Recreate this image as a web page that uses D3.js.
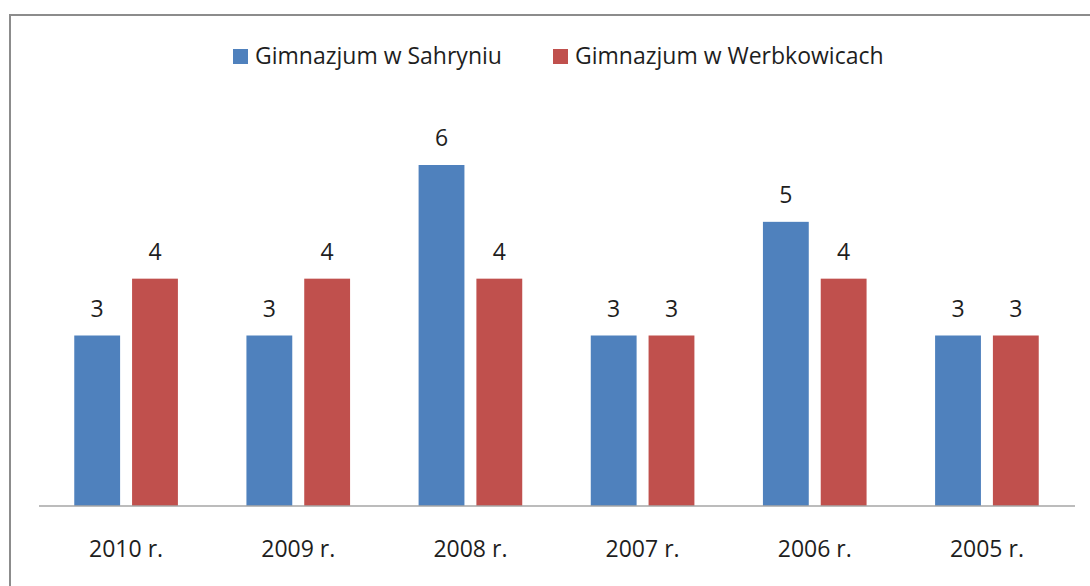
<!DOCTYPE html>
<html lang="pl">
    <head>
        <meta charset="UTF-8">
        <title>Gimnazja</title>
        <script src="https://d3js.org/d3.v7.min.js"></script>
        <style>
            body { margin: 0; padding: 0; background: #fff; overflow: hidden; }
            svg { display: block; }
            text { font-family: "Open Sans", sans-serif; fill: #1e1e1e; }
        </style>
    </head>
    <body>
        <svg id="chart" width="1090" height="586"></svg>
        <script>
            const years = ["2010 r.", "2009 r.", "2008 r.", "2007 r.", "2006 r.", "2005 r."];
            const series = ["Gimnazjum w Sahryniu", "Gimnazjum w Werbkowicach"];
            const sahryn = [3, 3, 6, 3, 5, 3];
            const werbkowice = [4, 4, 4, 3, 4, 3];
            const colors = ["#4F81BD", "#C0504D"];

            const svg = d3.select("#chart");

            // ramka wykresu (prawa i dolna krawędź poza kadrem)
            svg.append("rect")
                .attr("x", 10).attr("y", 15)
                .attr("width", 1200).attr("height", 700)
                .attr("fill", "none")
                .attr("stroke", "#8c8c8c")
                .attr("stroke-width", 2);

            const x = d3.scaleBand()
                .domain(years)
                .range([40, 1073])
                .paddingInner(0.398)
                .paddingOuter(0.199);

            const xs = d3.scaleBand()
                .domain(series)
                .range([0, x.bandwidth()])
                .paddingInner(0.207);

            const y = d3.scaleLinear()
                .domain([0, 6])
                .range([506, 165]);

            const rows = years.map((yr, i) => ({year: yr, values: [sahryn[i], werbkowice[i]]}));

            const groups = svg.append("g")
                .selectAll("g")
                .data(rows)
                .join("g")
                .attr("transform", d => `translate(${x(d.year)},0)`);

            groups.selectAll("rect")
                .data(d => d.values.map((v, k) => ({s: series[k], v: v, k: k})))
                .join("rect")
                .attr("x", d => xs(d.s))
                .attr("y", d => y(d.v))
                .attr("width", xs.bandwidth())
                .attr("height", d => y(0) - y(d.v))
                .attr("fill", d => colors[d.k]);

            groups.selectAll("text.val")
                .data(d => d.values.map((v, k) => ({s: series[k], v: v})))
                .join("text")
                .attr("class", "val")
                .attr("x", d => xs(d.s) + xs.bandwidth() / 2)
                .attr("y", d => y(d.v) - 19)
                .attr("text-anchor", "middle")
                .style("font-size", "23px")
                .text(d => d.v);

            // oś X
            const xAxis = svg.append("g")
                .attr("transform", `translate(0,${y(0)})`)
                .call(d3.axisBottom(x).tickSize(0).tickPadding(0).tickSizeOuter(0));
            xAxis.select(".domain").remove();
            xAxis.append("line")
                .attr("x1", 39).attr("x2", 1075)
                .attr("stroke", "#a6a6a6").attr("stroke-width", 1.5);
            xAxis.selectAll("text")
                .attr("dy", null)
                .attr("y", 51)
                .attr("fill", "#1e1e1e")
                .style("font-size", "23px")
                .style("font-family", "'Open Sans', sans-serif");

            // legenda
            const legendX = [233, 553];
            const legend = svg.append("g")
                .selectAll("g")
                .data(series)
                .join("g")
                .attr("transform", (d, i) => `translate(${legendX[i]},49)`);
            legend.append("rect")
                .attr("width", 15).attr("height", 15)
                .attr("fill", (d, i) => colors[i]);
            legend.append("text")
                .attr("x", 22).attr("y", 15)
                .style("font-size", "23px")
                .text(d => d);
        </script>
    </body>
</html>
